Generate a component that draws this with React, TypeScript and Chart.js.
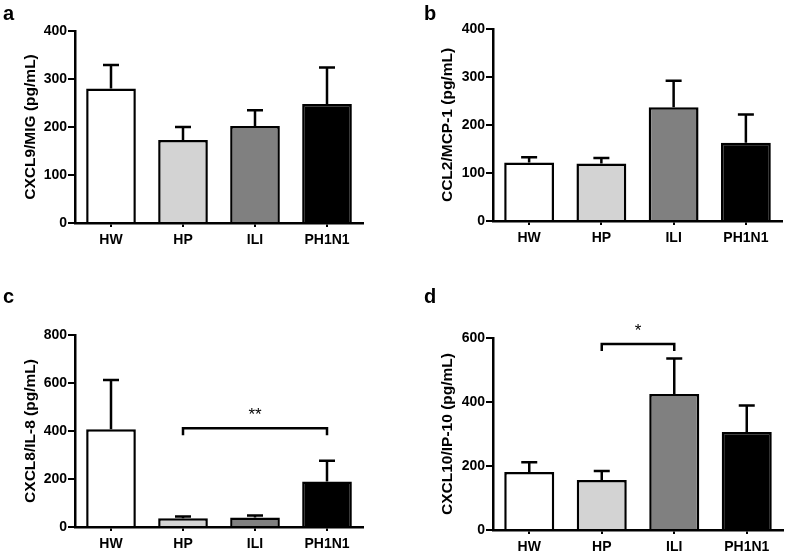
import React, { useEffect, useRef } from 'react';
import { Chart, registerables } from 'chart.js';

Chart.register(...registerables);

// ---------- data ----------
const categories = ['HW', 'HP', 'ILI', 'PH1N1'];
const barColors = ['#ffffff', '#d3d3d3', '#808080', '#000000'];

const cxcl9Mean = [280, 173, 202, 248];
const cxcl9Sem = [49, 27, 33, 76];
const cxcl9AxisMax = 400;
const cxcl9Step = 100;

const ccl2Mean = [122, 120, 237, 163];
const ccl2Sem = [11, 11, 55, 59];
const ccl2AxisMax = 400;
const ccl2Step = 100;

const cxcl8Mean = [407, 36, 40, 190];
const cxcl8Sem = [205, 8, 8, 86];
const cxcl8AxisMax = 800;
const cxcl8Step = 200;
const cxcl8Bracket = { from: 1, to: 3, level: 411, label: '**', labelLevel: 478 };

const cxcl10Mean = [181, 156, 425, 306];
const cxcl10Sem = [31, 28, 111, 83];
const cxcl10AxisMax = 600;
const cxcl10Step = 200;
const cxcl10Bracket = { from: 1, to: 2, level: 581, label: '*', labelLevel: 630 };

const FONT = "'Liberation Sans', Arial, Helvetica, sans-serif";

type Bracket = { from: number; to: number; level: number; label: string; labelLevel: number };

type PanelDef = {
  letter: string;
  title: string;
  mean: number[];
  sem: number[];
  max: number;
  step: number;
  bracket?: Bracket;
  // layout (pixels)
  left: number;
  top: number;
  width: number;
  height: number;
  areaLeft: number;
  areaRight: number;
  areaTop: number;
  areaBottom: number;
  titleX: number;
  letterLeft: number;
  letterTop: number;
};

const panels: PanelDef[] = [
  {
    letter: 'a', title: 'CXCL9/MIG (pg/mL)', mean: cxcl9Mean, sem: cxcl9Sem, max: cxcl9AxisMax, step: cxcl9Step,
    left: 0, top: 0, width: 393, height: 276,
    areaLeft: 75, areaRight: 363, areaTop: 31, areaBottom: 223, titleX: 31,
    letterLeft: 3, letterTop: 3,
  },
  {
    letter: 'b', title: 'CCL2/MCP-1 (pg/mL)', mean: ccl2Mean, sem: ccl2Sem, max: ccl2AxisMax, step: ccl2Step,
    left: 393, top: 0, width: 393, height: 276,
    areaLeft: 100, areaRight: 389, areaTop: 29, areaBottom: 221, titleX: 55,
    letterLeft: 424, letterTop: 3,
  },
  {
    letter: 'c', title: 'CXCL8/IL-8 (pg/mL)', mean: cxcl8Mean, sem: cxcl8Sem, max: cxcl8AxisMax, step: cxcl8Step,
    bracket: cxcl8Bracket,
    left: 0, top: 276, width: 393, height: 277,
    areaLeft: 75, areaRight: 363, areaTop: 59, areaBottom: 251, titleX: 31,
    letterLeft: 3, letterTop: 286,
  },
  {
    letter: 'd', title: 'CXCL10/IP-10 (pg/mL)', mean: cxcl10Mean, sem: cxcl10Sem, max: cxcl10AxisMax, step: cxcl10Step,
    bracket: cxcl10Bracket,
    left: 393, top: 276, width: 393, height: 277,
    areaLeft: 100, areaRight: 390, areaTop: 62, areaBottom: 254, titleX: 55,
    letterLeft: 424, letterTop: 286,
  },
];

const errorBarPlugin = {
  id: 'errorBars',
  afterDatasetsDraw(chart: any, _args: any, opts: any) {
    const { ctx } = chart;
    const y = chart.scales.y;
    const x = chart.scales.x;
    const meta = chart.getDatasetMeta(0);
    const mean: number[] = opts.mean;
    const sem: number[] = opts.sem;
    ctx.save();
    ctx.strokeStyle = '#000';
    ctx.lineWidth = 2.5;
    ctx.lineCap = 'butt';
    meta.data.forEach((bar: any, i: number) => {
      const cx = bar.x;
      const yTop = y.getPixelForValue(mean[i]);
      const yErr = y.getPixelForValue(mean[i] + sem[i]);
      ctx.beginPath();
      ctx.moveTo(cx, yTop);
      ctx.lineTo(cx, yErr);
      ctx.moveTo(cx - 8, yErr);
      ctx.lineTo(cx + 8, yErr);
      ctx.stroke();
    });
    const b: Bracket | undefined = opts.bracket;
    if (b) {
      const x1 = x.getPixelForValue(b.from);
      const x2 = x.getPixelForValue(b.to);
      const yb = y.getPixelForValue(b.level);
      ctx.beginPath();
      ctx.moveTo(x1, yb + 7);
      ctx.lineTo(x1, yb);
      ctx.lineTo(x2, yb);
      ctx.lineTo(x2, yb + 7);
      ctx.stroke();
      ctx.fillStyle = '#000';
      ctx.font = `17px ${FONT}`;
      ctx.textAlign = 'center';
      ctx.textBaseline = 'middle';
      ctx.fillText(b.label, (x1 + x2) / 2, y.getPixelForValue(b.labelLevel) + 3);
    }
    ctx.restore();
  },
};

function Panel({ p }: { p: PanelDef }) {
  const ref = useRef<HTMLCanvasElement | null>(null);
  useEffect(() => {
    const canvas = ref.current!;
    const titleFontSize = 15.5;
    const lineH = titleFontSize * 1.2;
    const chart = new Chart(canvas, {
      type: 'bar',
      data: {
        labels: categories,
        datasets: [
          {
            data: p.mean,
            backgroundColor: barColors,
            borderColor: '#000',
            borderWidth: 2.5,
            barPercentage: 0.69,
            categoryPercentage: 1,
          },
        ],
      },
      options: {
        responsive: false,
        animation: false,
        devicePixelRatio: 1,
        layout: {
          padding: { left: 0, right: p.width - p.areaRight, top: p.areaTop, bottom: 0 },
        },
        plugins: {
          legend: { display: false },
          tooltip: { enabled: false },
          errorBars: { mean: p.mean, sem: p.sem, bracket: p.bracket },
        } as any,
        scales: {
          x: {
            grid: {
              display: true,
              drawOnChartArea: false,
              drawTicks: true,
              tickLength: 4,
              offset: false,
              color: '#000',
              lineWidth: 2,
            },
            border: { display: true, color: '#000', width: 2.5 },
            ticks: {
              color: '#000',
              padding: 5,
              font: { family: FONT, size: 14, weight: 'bold' },
              maxRotation: 0,
            },
            afterFit: (s: any) => {
              s.height = p.height - p.areaBottom;
            },
          } as any,
          y: {
            min: 0,
            max: p.max,
            grid: {
              display: true,
              drawOnChartArea: false,
              drawTicks: true,
              tickLength: 7,
              color: '#000',
              lineWidth: 2,
            },
            border: { display: true, color: '#000', width: 2.5 },
            ticks: {
              stepSize: p.step,
              color: '#000',
              padding: 1,
              font: { family: FONT, size: 14, weight: 'bold' },
            },
            title: {
              display: true,
              text: p.title,
              color: '#000',
              font: { family: FONT, size: titleFontSize, weight: 'bold' },
              padding: { top: p.titleX - lineH / 2, bottom: 0 },
            },
            afterFit: (s: any) => {
              s.width = p.areaLeft;
            },
          } as any,
        },
      },
      plugins: [errorBarPlugin],
    });
    return () => chart.destroy();
  }, [p]);
  return (
    <canvas
      ref={ref}
      width={p.width}
      height={p.height}
      style={{ position: 'absolute', left: p.left, top: p.top, width: p.width, height: p.height }}
    />
  );
}

export default function App() {
  return (
    <div
      style={{
        position: 'absolute',
        left: 0,
        top: 0,
        width: 786,
        height: 553,
        background: '#ffffff',
        overflow: 'hidden',
      }}
    >
      {panels.map((p) => (
        <Panel key={p.letter} p={p} />
      ))}
      {panels.map((p) => (
        <div
          key={'l' + p.letter}
          style={{
            position: 'absolute',
            left: p.letterLeft,
            top: p.letterTop,
            fontFamily: FONT,
            fontWeight: 'bold',
            fontSize: 20,
            lineHeight: '20px',
            color: '#000',
          }}
        >
          {p.letter}
        </div>
      ))}
    </div>
  );
}
